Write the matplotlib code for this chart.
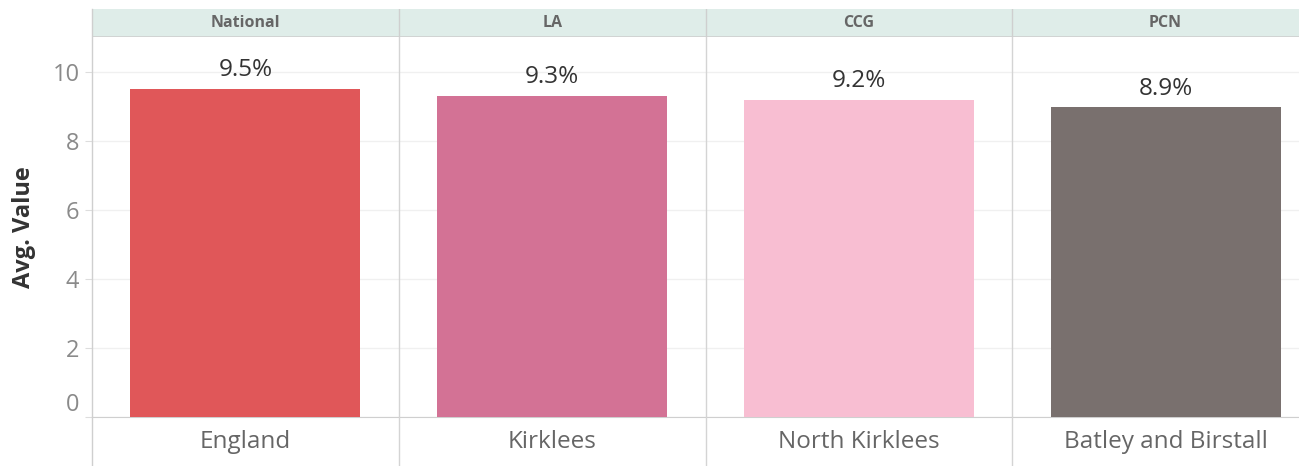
import matplotlib
matplotlib.use("Agg")
import matplotlib.pyplot as plt
from matplotlib.lines import Line2D

groups = ["National", "LA", "CCG", "PCN"]
categories = ["England", "Kirklees", "North Kirklees", "Batley and Birstall"]
values = [9.5, 9.28, 9.19, 8.96]
labels = ["9.5%", "9.3%", "9.2%", "8.9%"]
colors = ["#E05759", "#D37295", "#F8BED2", "#79706E"]
yticks = [0, 2, 4, 6, 8, 10]

FONT = "Open Sans"
W, H = 1299, 466
fig = plt.figure(figsize=(W / 100, H / 100), dpi=100)

x0, x1 = 92, 1319
top_h, hdr_bot, base = 9, 37, 417

def fx(px):
    return px / W

def fy(py):
    return 1 - py / H

ax = fig.add_axes([fx(x0), fy(base), fx(x1) - fx(x0), fy(hdr_bot) - fy(base)])
n = len(categories)
pos = [i + 0.5 for i in range(n)]
ax.bar(pos, values, width=0.75, color=colors, zorder=3)
ax.set_xlim(0, n)
ax.set_ylim(0, 11.0)
ax.set_yticks(yticks)
ax.set_yticklabels([str(t) for t in yticks], fontsize=17, color="#8a8a8a", family=FONT)
for lbl in ax.get_yticklabels():
    if lbl.get_text() == "0":
        lbl.set_verticalalignment("bottom")
ax.tick_params(axis="y", length=5, color="#dddddd", pad=4)
ax.tick_params(axis="x", length=0, labelbottom=False)
ax.grid(axis="y", color="#f0f0f0", linewidth=1, zorder=0)
for s in ["top", "right", "left"]:
    ax.spines[s].set_visible(False)
ax.spines["bottom"].set_color("#cfcfcf")
for i in range(1, n):
    ax.axvline(i, color="#d4d4d4", linewidth=1, zorder=2)
for p, v, t in zip(pos, values, labels):
    ax.annotate(t, (p, v), xytext=(0, 5), textcoords="offset points",
                ha="center", va="bottom", fontsize=17.5, color="#333333", family=FONT)
ax.set_ylabel("Avg. Value", fontsize=17, fontweight="bold", color="#333333", family=FONT, labelpad=12)

# header band
hax = fig.add_axes([fx(x0), fy(hdr_bot), fx(x1) - fx(x0), fy(top_h) - fy(hdr_bot)])
hax.set_xlim(0, n)
hax.set_ylim(0, 1)
hax.set_facecolor("#DFEDE9")
hax.set_xticks([]); hax.set_yticks([])
for s in hax.spines.values():
    s.set_visible(False)
hax.axhline(0, color="#cfcfcf", linewidth=1.2)
for i in range(1, n):
    hax.axvline(i, color="#cfcfcf", linewidth=1)
for p, g in zip(pos, groups):
    hax.text(p, 0.5, g, ha="center", va="center", fontsize=11.5, fontweight="bold",
             color="#666666", family=FONT)

# bottom label row
bax = fig.add_axes([fx(x0), 0, fx(x1) - fx(x0), fy(base)])
bax.set_xlim(0, n)
bax.set_ylim(0, 1)
bax.axis("off")
for i in range(1, n):
    bax.axvline(i, color="#d4d4d4", linewidth=1)
for p, c in zip(pos, categories):
    bax.text(p, 0.49, c, ha="center", va="center", fontsize=17.5, color="#666666", family=FONT)

# left border line
fig.add_artist(Line2D([fx(x0), fx(x0)], [0, fy(top_h)], color="#cfcfcf", linewidth=1, transform=fig.transFigure))

fig.savefig("out.png", dpi=100)
